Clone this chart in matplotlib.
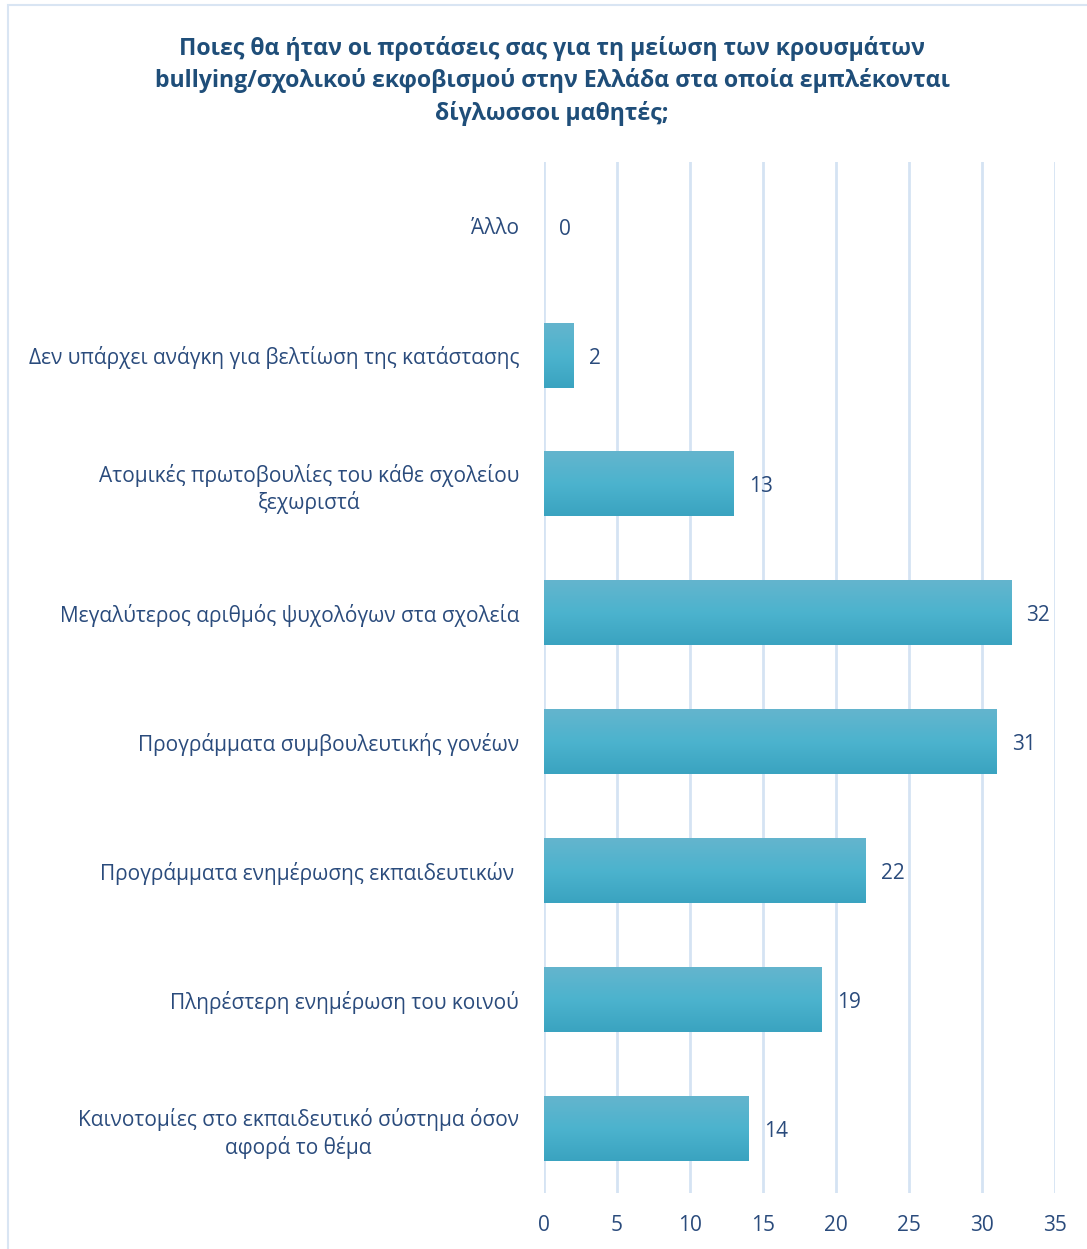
import numpy as np
import matplotlib
matplotlib.use("Agg")
import matplotlib.pyplot as plt
from matplotlib.colors import LinearSegmentedColormap
from matplotlib.patches import Rectangle

plt.rcParams['font.family'] = ['Open Sans', 'DejaVu Sans']

# Survey answers (top to bottom as displayed)
categories = [
    "Άλλο",
    "Δεν υπάρχει ανάγκη για βελτίωση της κατάστασης",
    "Ατομικές πρωτοβουλίες του κάθε σχολείου\nξεχωριστά",
    "Μεγαλύτερος αριθμός ψυχολόγων στα σχολεία",
    "Προγράμματα συμβουλευτικής γονέων",
    "Προγράμματα ενημέρωσης εκπαιδευτικών ",
    "Πληρέστερη ενημέρωση του κοινού",
    "Καινοτομίες στο εκπαιδευτικό σύστημα όσον\nαφορά το θέμα",
]
counts = [0, 2, 13, 32, 31, 22, 19, 14]
xticks = [0, 5, 10, 15, 20, 25, 30, 35]

title = ("Ποιες θα ήταν οι προτάσεις σας για τη μείωση των κρουσμάτων\n"
         "bullying/σχολικού εκφοβισμού στην Ελλάδα στα οποία εμπλέκονται\n"
         "δίγλωσσοι μαθητές;")

text_color = "#2a4b7c"
title_color = "#1f4e79"
grid_color = "#d5e3f3"

fig = plt.figure(figsize=(10.87, 12.49), dpi=100)
ax = fig.add_axes([0.5005, 0.0448, 0.4701, 0.8255])

# Chart frame
fig.patches.append(Rectangle((0.0075, -0.05), 1.2, 1.046, transform=fig.transFigure,
                             fill=False, edgecolor="#d9e5f3", linewidth=1.5))

y = np.arange(len(categories))
bar_h = 0.5

cmap = LinearSegmentedColormap.from_list(
    "barfill", ["#64b5cd", "#4cb3ce", "#3aa3c0"])
grad = np.linspace(0, 1, 256).reshape(-1, 1)

bars = ax.barh(y, counts, height=bar_h, color="none", edgecolor="none")
for b in bars:
    x0, y0 = b.get_x(), b.get_y()
    w, h = b.get_width(), b.get_height()
    if w <= 0:
        continue
    ax.imshow(grad, cmap=cmap, aspect="auto", interpolation="bilinear",
              extent=[x0, x0 + w, y0, y0 + h], origin="lower", zorder=2)

for yi, v in zip(y, counts):
    ax.annotate(str(v), xy=(v, yi), xytext=(11, -2), textcoords="offset points",
                ha="left", va="center", fontsize=15, color=text_color)

ax.set_xlim(0, 35)
ax.set_ylim(len(categories) - 0.5, -0.5)
ax.set_xticks(xticks)
ax.set_xticklabels([str(t) for t in xticks])
ax.set_yticks(y)
ax.set_yticklabels(categories, multialignment="center", linespacing=1.25)
ax.tick_params(axis="both", length=0, labelsize=15, labelcolor=text_color)
ax.tick_params(axis="y", pad=18)
ax.tick_params(axis="x", pad=16)
ax.grid(axis="x", color=grid_color, linewidth=2, zorder=0)
ax.set_axisbelow(True)
for s in ax.spines.values():
    s.set_visible(False)

fig.text(0.508, 0.971, title, ha="center", va="top", fontsize=16.7,
         fontweight="bold", color=title_color, linespacing=1.38)

fig.savefig("out.png", dpi=100, facecolor="white")
